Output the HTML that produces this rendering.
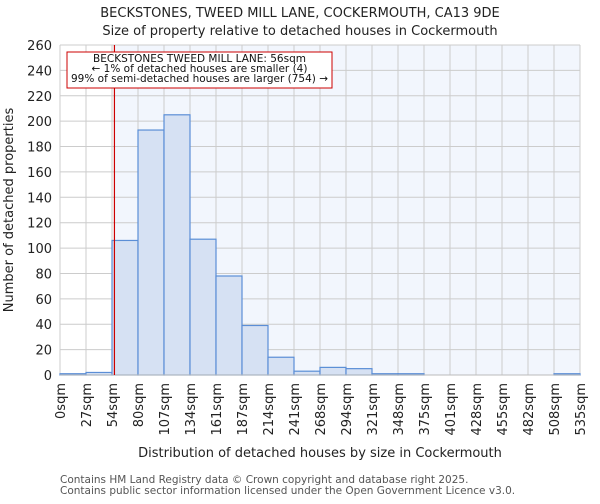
<!DOCTYPE html>
<html><head><meta charset="utf-8"><style>
body{margin:0;background:#fff;font-family:"DejaVu Sans","Liberation Sans",sans-serif}
svg text{font-family:"DejaVu Sans","Liberation Sans",sans-serif}
</style></head><body>
<svg id="c" width="600" height="500" xmlns="http://www.w3.org/2000/svg"></svg>
<script>
const categories=["0sqm","27sqm","54sqm","80sqm","107sqm","134sqm","161sqm","187sqm","214sqm","241sqm","268sqm","294sqm","321sqm","348sqm","375sqm","401sqm","428sqm","455sqm","482sqm","508sqm","535sqm"];
const counts=[1,2,106,193,205,107,78,39,14,3,6,5,1,1,0,0,0,0,0,1];
const yTicks=[0,20,40,60,80,100,120,140,160,180,200,220,240,260];
const binWidth=26.75;
const propertySize=56;
const X0=60,X1=580,Y0=375,Y1=45,YMAX=260;
const nb=counts.length;
const xs=v=>X0+(v/(binWidth*nb))*(X1-X0);
const xi=i=>X0+i*(X1-X0)/nb;
const ys=v=>Y0-v/YMAX*(Y0-Y1);
const svg=document.getElementById('c');
const NS='http://www.w3.org/2000/svg';
function mk(t,a,txt){const e=document.createElementNS(NS,t);for(const k in a)e.setAttribute(k,a[k]);if(txt!=null)e.textContent=txt;svg.appendChild(e);return e;}
let e;
const mx=xs(propertySize);
e=mk('rect',{x:mx,y:Y1,width:X1-mx,height:Y0-Y1,fill:'#f2f6fd'});


for(const t of yTicks){
 e=mk('line',{x1:X0,x2:X1,y1:ys(t),y2:ys(t),stroke:'#cccccc','stroke-width':1});
 
 
 e=mk('text',{x:X0-8,y:ys(t)+5,'text-anchor':'end','font-size':13,fill:'#222'},t);
 
 
}
categories.forEach((c,i)=>{
 const x=xi(i);
 e=mk('line',{x1:x,x2:x,y1:Y1,y2:Y0,stroke:'#cccccc','stroke-width':1});
 
 
 e=mk('text',{x:0,y:0,'text-anchor':'end','font-size':13,fill:'#222',transform:`translate(${x+5},${Y0+8}) rotate(-90)`},c);
 
 
});
counts.forEach((v,i)=>{
 if(v<=0)return;
 e=mk('rect',{x:xi(i),y:ys(v),width:xi(i+1)-xi(i),height:Y0-ys(v),fill:'#d6e1f3',stroke:'#5b8ed6','stroke-width':1.2});
 
 
});
e=mk('line',{x1:X0,x2:X1,y1:Y0,y2:Y0,stroke:'#bbb','stroke-width':1});


e=mk('line',{x1:mx,x2:mx,y1:Y1,y2:Y0,stroke:'#cc0000','stroke-width':1.2});


e=mk('rect',{x:67,y:52,width:265,height:36,fill:'#fff',stroke:'#cc0000','stroke-width':1});


const ann=["BECKSTONES TWEED MILL LANE: 56sqm","← 1% of detached houses are smaller (4)","99% of semi-detached houses are larger (754) →"];
ann.forEach((t,i)=>{
 e=mk('text',{x:199.5,y:62+i*10,'text-anchor':'middle','font-size':10.5,fill:'#111'},t);
 
 
});
e=mk('text',{x:300,y:17,'text-anchor':'middle','font-size':13,fill:'#222'},'BECKSTONES, TWEED MILL LANE, COCKERMOUTH, CA13 9DE');


e=mk('text',{x:300,y:35,'text-anchor':'middle','font-size':13,fill:'#222'},'Size of property relative to detached houses in Cockermouth');


e=mk('text',{x:0,y:0,'text-anchor':'middle','font-size':13,fill:'#222',transform:'translate(13,210) rotate(-90)'},'Number of detached properties');


e=mk('text',{x:320,y:457,'text-anchor':'middle','font-size':13,fill:'#222'},'Distribution of detached houses by size in Cockermouth');


e=mk('text',{x:60,y:483,'font-size':10.5,fill:'#555'},'Contains HM Land Registry data © Crown copyright and database right 2025.');


e=mk('text',{x:60,y:494,'font-size':10.5,fill:'#555'},'Contains public sector information licensed under the Open Government Licence v3.0.');


</script>
</body></html>
